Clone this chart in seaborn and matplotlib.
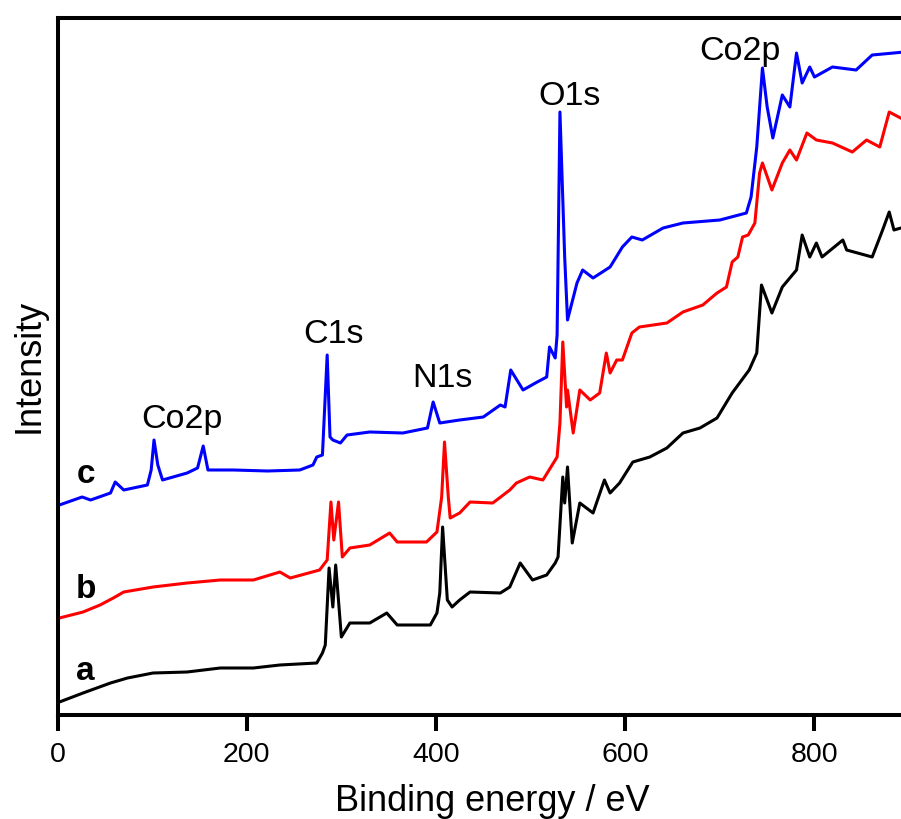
import numpy as np
import pandas as pd
import matplotlib
matplotlib.use("Agg")
import matplotlib.pyplot as plt
import seaborn as sns

# ---- data (binding energy in eV, intensity in arbitrary units) ----
a_energy = [2, 27, 56, 74, 101, 137, 172, 207, 235, 274, 280, 283, 287, 291, 294, 300, 309, 330,
            348, 359, 394, 401, 404, 407, 412, 417, 425, 436, 468, 478, 489, 502, 517, 526, 529,
            534, 536, 539, 544, 552, 566, 578, 584, 594, 608, 626, 644, 661, 679, 697, 713, 731,
            739, 744, 755, 766, 781, 787, 795, 802, 808, 830, 834, 861, 872, 879, 884, 895]
a_intensity = [11, 20, 30, 35, 40, 41, 45, 45, 48, 50, 60, 68, 145, 106, 148, 76, 90, 90,
               100, 88, 88, 100, 120, 186, 113, 106, 113, 121, 120, 126, 150, 133, 138, 150, 156,
               236, 210, 246, 170, 210, 200, 233, 220, 230, 251, 256, 265, 280, 285, 295, 320, 343,
               360, 428, 400, 426, 443, 478, 456, 470, 456, 473, 463, 456, 483, 501, 483, 486]

b_energy = [2, 27, 45, 59, 70, 101, 137, 172, 207, 235, 246, 277, 285, 289, 292, 297, 301, 309,
            330, 351, 359, 390, 401, 406, 409, 413, 415, 425, 436, 460, 478, 485, 499, 513, 528,
            531, 534, 538, 539, 545, 552, 563, 573, 580, 584, 591, 597, 607, 615, 644, 661, 682,
            697, 707, 713, 719, 724, 730, 737, 742, 745, 755, 766, 774, 781, 792, 802, 819, 840,
            855, 869, 879, 895]
b_intensity = [95, 101, 108, 115, 121, 126, 130, 133, 133, 141, 135, 143, 153, 211, 173, 211, 156, 165,
               168, 180, 171, 171, 181, 216, 271, 216, 195, 200, 211, 210, 223, 230, 236, 233, 256,
               290, 371, 306, 323, 280, 323, 313, 320, 360, 340, 353, 353, 380, 386, 390, 401, 408,
               420, 426, 451, 456, 476, 478, 490, 540, 550, 523, 550, 563, 553, 580, 573, 570, 561,
               573, 566, 601, 593]

c_energy = [2, 26, 35, 56, 61, 70, 95, 99, 102, 106, 111, 137, 148, 154, 159, 186, 222, 256, 270,
            274, 280, 285, 288, 291, 299, 306, 330, 365, 391, 397, 404, 425, 450, 468, 473, 479,
            492, 507, 517, 520, 526, 528, 531, 536, 539, 549, 555, 566, 584, 597, 607, 618, 640,
            661, 700, 728, 733, 739, 745, 750, 756, 766, 774, 781, 787, 795, 800, 819, 844, 861,
            895]
c_intensity = [208, 216, 213, 220, 231, 223, 228, 243, 273, 248, 233, 240, 245, 267, 243, 243, 242, 243, 248,
               256, 258, 358, 276, 273, 270, 278, 281, 280, 285, 311, 290, 293, 296, 308, 306, 343,
               323, 331, 336, 366, 355, 378, 601, 456, 393, 430, 443, 435, 446, 466, 476, 473, 485,
               490, 493, 500, 516, 566, 645, 606, 575, 618, 606, 660, 630, 646, 636, 646, 643, 658,
               661]

sample_labels = ["a", "b", "c"]
sample_colors = ["#000000", "#ff0000", "#0000ff"]
peak_labels = ["Co2p", "C1s", "N1s", "O1s", "Co2p"]
peak_label_energy = [131.6, 292.2, 406.4, 541.6, 721.3]
peak_label_intensity = [285, 370, 326, 608, 653]
sample_label_energy = [19.6, 19.6, 20.6]
sample_label_intensity = [33, 115, 230]
x_ticks = [0, 200, 400, 600, 800]

df = pd.concat([
    pd.DataFrame({"energy": a_energy, "intensity": a_intensity, "sample": "a"}),
    pd.DataFrame({"energy": b_energy, "intensity": b_intensity, "sample": "b"}),
    pd.DataFrame({"energy": c_energy, "intensity": c_intensity, "sample": "c"}),
], ignore_index=True)

sns.set_theme(style="ticks")
plt.rcParams["font.family"] = ["Liberation Sans", "DejaVu Sans"]
plt.rcParams["text.color"] = "black"
plt.rcParams["axes.labelcolor"] = "black"
plt.rcParams["xtick.color"] = "black"
plt.rcParams["xtick.labelcolor"] = "black"

fig = plt.figure(figsize=(9.01, 8.19), dpi=100)
W, H = 901, 819
ax = fig.add_axes([57.5 / W, (H - 715) / H, 851.6 / W, 697.5 / H])

sns.lineplot(data=df, x="energy", y="intensity", hue="sample", hue_order=sample_labels,
             palette=sample_colors, estimator=None, sort=True, linewidth=2.2,
             legend=False, ax=ax)

ax.set_xlim(0, 900)
ax.set_ylim(-2, 695.5)
ax.set_xticks(x_ticks)
ax.set_yticks([])
for s in ax.spines.values():
    s.set_linewidth(2.9)
    s.set_color("black")
ax.tick_params(axis="x", direction="out", length=11.5, width=2.9, pad=8,
               labelsize=20.5, colors="black")

ax.set_xlabel("Binding energy / eV", fontsize=26, color="black")
ax.xaxis.set_label_coords(0.51, -0.099)
ax.set_ylabel("Intensity", fontsize=26, labelpad=8, color="black")

for t, x, y in zip(peak_labels, peak_label_energy, peak_label_intensity):
    ax.text(x, y, t, fontsize=24.5, ha="center", va="baseline", color="black")
for t, x, y in zip(sample_labels, sample_label_energy, sample_label_intensity):
    ax.text(x, y, t, fontsize=24, fontweight="bold", ha="left", va="baseline", color="black")

fig.savefig("out.png", dpi=100)
